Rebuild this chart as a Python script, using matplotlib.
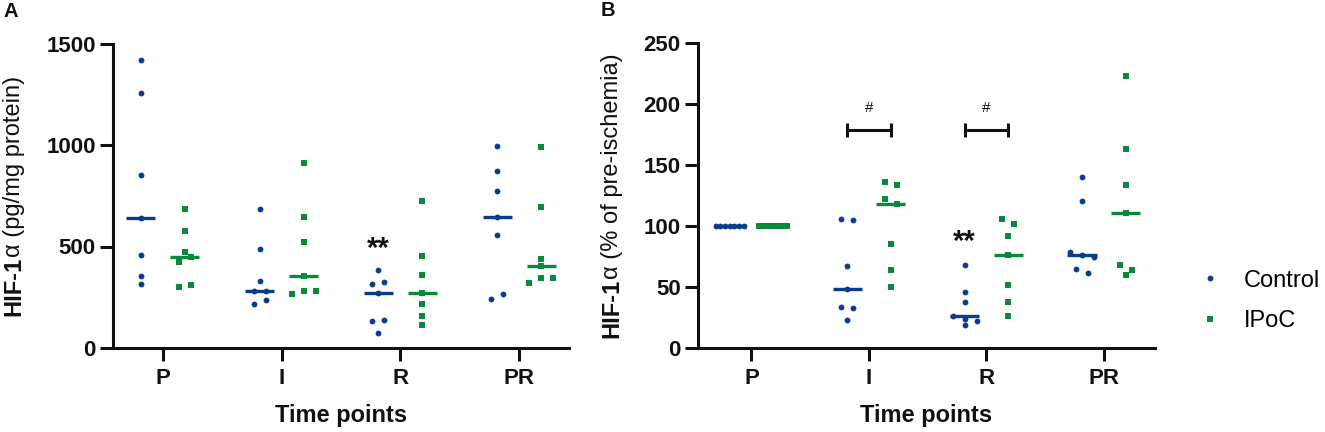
import numpy as np
import matplotlib
matplotlib.use("Agg")
import matplotlib.pyplot as plt

# ---------------- data ----------------
timepoints = ["P", "I", "R", "PR"]

a_control = [
    [1418, 1257, 852, 639, 456, 356, 316],
    [684, 487, 331, 283, 281, 236, 217],
    [382, 323, 315, 270, 139, 134, 74],
    [995, 874, 772, 646, 557, 267, 243],
]
a_ipoc = [
    [684, 574, 475, 446, 426, 308, 300],
    [913, 643, 523, 355, 282, 282, 264],
    [723, 454, 359, 270, 218, 159, 115],
    [989, 693, 439, 402, 343, 343, 318],
]
b_control = [
    [100, 100, 100, 100, 100, 100, 100],
    [106, 105, 67, 48, 34, 33, 23],
    [68, 45.6, 38, 26, 23.8, 21.8, 18.9],
    [140, 121, 79, 76, 75, 65, 61.5],
]
b_ipoc = [
    [100, 100, 100, 100, 100, 100, 100],
    [136, 134, 122, 118, 85, 64, 50],
    [106, 102, 92, 76, 52, 38, 26.5],
    [223, 163, 134, 111, 68, 64, 60],
]
a_yticks = [0, 500, 1000, 1500]
b_yticks = [0, 50, 100, 150, 200, 250]
series_names = ["Control", "IPoC"]

# ---------------- style ----------------
plt.rcParams['font.family'] = ['Liberation Sans', 'DejaVu Sans']
BLUE = '#0b3b8c'
GREEN = '#08893c'
INK = '#111111'
W, H = 1325, 432

fig = plt.figure(figsize=(W / 100, H / 100), dpi=100)
axA = fig.add_axes([113 / W, 1 - 348 / H, (569 - 113) / W, (348 - 43.5) / H])
axB = fig.add_axes([698 / W, 1 - 348 / H, (1155 - 698) / W, (348 - 43.3) / H])

GROUP_OFF = 0.186


def swarm_offsets(ax, values, order, s_px=12.0, w_px=28.0, thr_px=5.5):
    vals = np.asarray(values, dtype=float)
    y_px = ax.transData.transform(np.column_stack([np.zeros(len(vals)), vals]))[:, 1]
    xl = ax.get_xlim()
    x_per_px = (xl[1] - xl[0]) / ax.bbox.width
    idx = np.argsort(-vals, kind='stable')
    bins = []
    for i in idx:
        if bins and abs(y_px[bins[-1][0]] - y_px[i]) < thr_px:
            bins[-1].append(i)
        else:
            bins.append([i])
    offs = np.zeros(len(vals))
    for b in bins:
        n = len(b)
        if n == 1:
            continue
        s = min(s_px, w_px / (n - 1))
        pos = (np.arange(n) - (n - 1) / 2) * s
        members = b if order == 'desc' else b[::-1]
        for p, i in zip(pos, members):
            offs[i] = p * x_per_px
    return offs


def setup(ax, ylim, yticks, xlim):
    ax.set_xlim(*xlim)
    ax.set_ylim(*ylim)
    for s in ['top', 'right']:
        ax.spines[s].set_visible(False)
    for s in ['left', 'bottom']:
        ax.spines[s].set_linewidth(2.2)
        ax.spines[s].set_color(INK)
    ax.set_yticks(yticks)
    ax.set_xticks(range(len(timepoints)))
    ax.set_xticklabels(timepoints)
    ax.tick_params(axis='both', length=9.5, width=2.2, color=INK, labelsize=16, labelcolor=INK)
    ax.tick_params(axis='y', pad=3)
    ax.tick_params(axis='x', pad=5)
    for lab in ax.get_xticklabels() + ax.get_yticklabels():
        lab.set_fontweight('bold')
    ax.set_xlabel("Time points", fontsize=17, fontweight='bold', color=INK, labelpad=10.5)


def draw_groups(ax, control, ipoc, order, med_half):
    handles = []
    for k, (data, color, marker, ms, sign, name) in enumerate([
            (control, BLUE, 'o', 4.2, -1, series_names[0]),
            (ipoc, GREEN, 's', 4.3, 1, series_names[1])]):
        for i, vals in enumerate(data):
            xc = i + sign * GROUP_OFF
            offs = swarm_offsets(ax, vals, order)
            med = np.median(vals)
            ax.plot([xc - med_half, xc + med_half], [med, med], color=color, lw=2.4,
                    solid_capstyle='butt', zorder=2)
            h, = ax.plot(xc + offs, vals, linestyle='none', marker=marker, ms=ms,
                         color=color, markeredgewidth=0, zorder=3,
                         label=name if i == 0 else None)
            if i == 0:
                handles.append(h)
    return handles


setup(axA, (0, 1500), a_yticks, (-0.42, 3.42))
setup(axB, (0, 250), b_yticks, (-0.455, 3.435))

draw_groups(axA, a_control, a_ipoc, 'asc', 0.122)
handles = draw_groups(axB, b_control, b_ipoc, 'desc', 0.124)

# significance marks
axA.text(2 - GROUP_OFF, 490, "**", ha='center', va='center', fontsize=21, fontweight='bold', color=INK)
axB.text(2 - GROUP_OFF, 87, "**", ha='center', va='center', fontsize=21, fontweight='bold', color=INK)
for i in [1, 2]:
    x0, x1 = i - GROUP_OFF, i + GROUP_OFF
    yb = 179
    axB.plot([x0, x1], [yb, yb], color=INK, lw=2.2, solid_capstyle='butt')
    axB.plot([x0, x0], [yb - 6, yb + 6], color=INK, lw=2.2, solid_capstyle='butt')
    axB.plot([x1, x1], [yb - 6, yb + 6], color=INK, lw=2.2, solid_capstyle='butt')
    axB.text(i, 197, "#", ha='center', va='center', fontsize=11, color=INK)

# two-part y labels (bold "HIF-1", regular rest)
renderer = fig.canvas.get_renderer()


def two_part_ylabel(ax, bold, regular, x_center_px):
    t1 = fig.text(0, 0, bold, rotation=90, fontsize=17, fontweight='bold',
                  ha='center', va='bottom', color=INK)
    t2 = fig.text(0, 0, regular, rotation=90, fontsize=17,
                  ha='center', va='bottom', color=INK)
    h1 = t1.get_window_extent(renderer).height
    h2 = t2.get_window_extent(renderer).height
    bb = ax.bbox
    yc = (bb.y0 + bb.y1) / 2
    y0 = yc - (h1 + h2) / 2
    t1.set_position((x_center_px / W, y0 / H))
    t2.set_position((x_center_px / W, (y0 + h1) / H))


two_part_ylabel(axA, "HIF-1", "\u03b1 (pg/mg protein)", 13.8)
two_part_ylabel(axB, "HIF-1", "\u03b1 (% of pre-ischemia)", 611.8)

# panel letters
fig.text(3 / W, 1 - 2 / H, "A", ha='left', va='top', fontsize=14.5, fontweight='bold', color=INK)
fig.text(601 / W, 1 - 1 / H, "B", ha='left', va='top', fontsize=14.5, fontweight='bold', color=INK)

# legend
fig.legend(handles=handles, labels=series_names, loc='center left',
           bbox_to_anchor=(1192 / W, 1 - 301 / H), frameon=False, fontsize=17,
           handlelength=1.5, handletextpad=0.7, borderpad=0, borderaxespad=0,
           labelspacing=0.8, markerscale=1.0)

fig.savefig("out.png", dpi=100)
